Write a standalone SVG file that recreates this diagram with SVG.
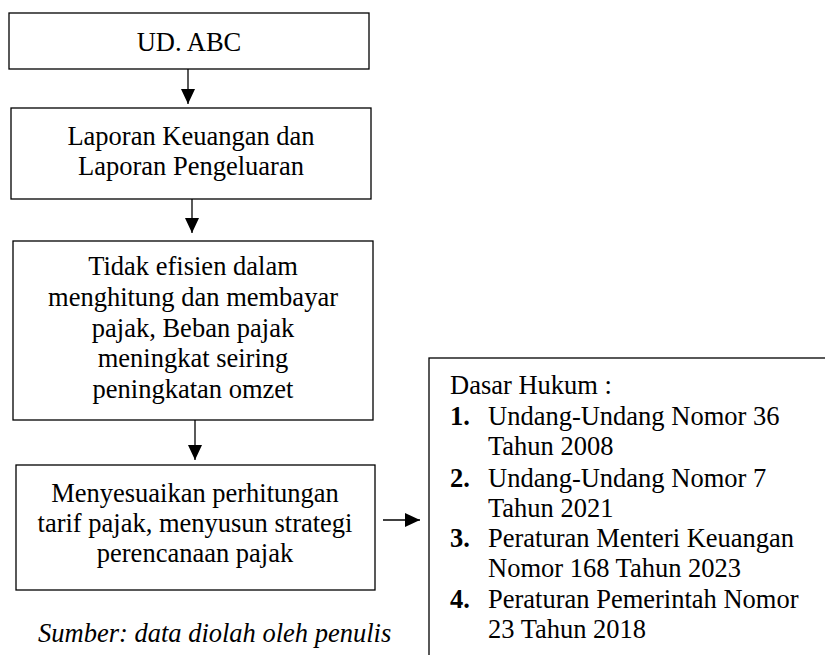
<svg xmlns="http://www.w3.org/2000/svg" width="825" height="655" viewBox="0 0 825 655">
<style>
.box{fill:#fff;stroke:#000;stroke-width:1.3}
.t{font-family:"Liberation Serif","Times New Roman",serif;font-size:26.5px;fill:#000}
.c{text-anchor:middle}
.b{font-weight:bold}
.conn{stroke:#000;stroke-width:1.3;fill:none}
</style>
<defs>
<marker id="ah" markerUnits="userSpaceOnUse" markerWidth="16" markerHeight="14" refX="15" refY="7" orient="auto">
<path d="M0,0 L15,7 L0,14 Z" fill="#000"/>
</marker>
</defs>
<rect width="825" height="655" fill="#fff"/>
<g id="n1">
<rect class="box" x="9" y="13" width="360" height="56"/>
<text class="t c" x="189" y="51">UD. ABC</text>
</g>
<g id="n2">
<rect class="box" x="11" y="108" width="360" height="91"/>
<text class="t c" x="191" y="145">Laporan Keuangan dan</text>
<text class="t c" x="191" y="175">Laporan Pengeluaran</text>
</g>
<g id="n3">
<rect class="box" x="13" y="241" width="360" height="179"/>
<text class="t c" x="193" y="275">Tidak efisien dalam</text>
<text class="t c" x="193" y="306">menghitung dan membayar</text>
<text class="t c" x="193" y="337">pajak, Beban pajak</text>
<text class="t c" x="193" y="367">meningkat seiring</text>
<text class="t c" x="193" y="398">peningkatan omzet</text>
</g>
<g id="n4">
<rect class="box" x="16" y="465" width="359" height="125"/>
<text class="t c" x="195" y="502">Menyesuaikan perhitungan</text>
<text class="t c" x="195" y="532">tarif pajak, menyusun strategi</text>
<text class="t c" x="195" y="562">perencanaan pajak</text>
</g>
<g id="n5">
<rect class="box" x="429" y="358" width="420" height="320"/>
<text class="t" x="450" y="394">Dasar Hukum :</text>
<text class="t b" x="450" y="425">1.</text>
<text class="t" x="488" y="425">Undang-Undang Nomor 36</text>
<text class="t" x="488" y="455">Tahun 2008</text>
<text class="t b" x="450" y="487">2.</text>
<text class="t" x="488" y="487">Undang-Undang Nomor 7</text>
<text class="t" x="488" y="517">Tahun 2021</text>
<text class="t b" x="450" y="547">3.</text>
<text class="t" x="488" y="547">Peraturan Menteri Keuangan</text>
<text class="t" x="488" y="577">Nomor 168 Tahun 2023</text>
<text class="t b" x="450" y="608">4.</text>
<text class="t" x="488" y="608">Peraturan Pemerintah Nomor</text>
<text class="t" x="488" y="638">23 Tahun 2018</text>
</g>
<g id="caption">
<text class="t" x="38" y="642" font-style="italic" font-size="25.4px">Sumber: data diolah oleh penulis</text>
</g>
<g id="connectors">
<line class="conn" x1="188" y1="69" x2="188" y2="104" marker-end="url(#ah)"/>
<line class="conn" x1="192" y1="199" x2="192" y2="233" marker-end="url(#ah)"/>
<line class="conn" x1="195" y1="420" x2="195" y2="460" marker-end="url(#ah)"/>
<line class="conn" x1="383" y1="520" x2="420" y2="520" marker-end="url(#ah)"/>
</g>
</svg>
